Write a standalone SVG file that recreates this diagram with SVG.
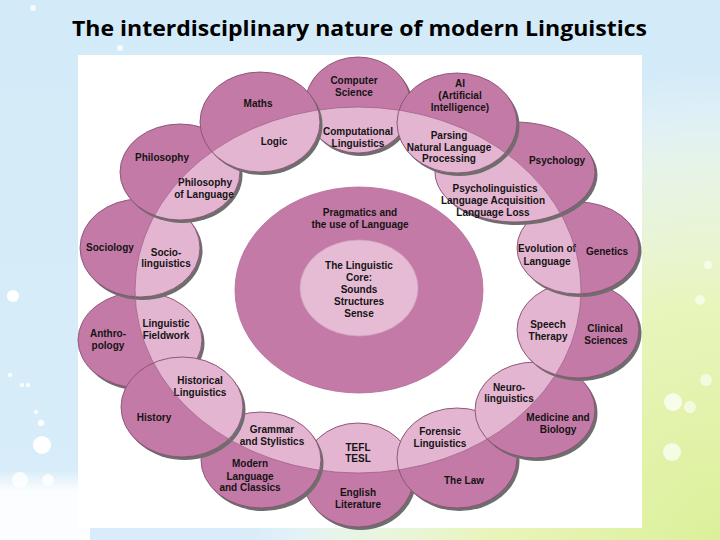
<svg xmlns="http://www.w3.org/2000/svg" xmlns:xlink="http://www.w3.org/1999/xlink" width="720" height="540" viewBox="0 0 720 540">
<style>
.sh{fill:#6e6e6e}
.dk{fill:#c47aa6}
.lt{fill:#e4b5d1}
.ol{fill:none;stroke:#86506f;stroke-width:0.9}
.t{font-family:"Liberation Sans",Arial,sans-serif;font-weight:bold;font-size:10px;fill:#141414;text-anchor:middle}
.ttl{font-family:"Open Sans","Liberation Sans",sans-serif;font-weight:bold;font-size:22px;fill:#000}
.dot{fill:#fff}
</style>
<defs>
<radialGradient id="grn" cx="720" cy="540" r="470" gradientUnits="userSpaceOnUse">
<stop offset="0" stop-color="#dcf09a"/>
<stop offset="0.5" stop-color="#e8f5bb"/>
<stop offset="0.8" stop-color="#f2f9dc" stop-opacity="0.6"/>
<stop offset="1" stop-color="#ffffff" stop-opacity="0"/>
</radialGradient>
<linearGradient id="bl" x1="0" y1="0" x2="0" y2="1">
<stop offset="0" stop-color="#d3eaf8"/>
<stop offset="1" stop-color="#d8edf9"/>
</linearGradient>
<linearGradient id="wb" x1="0" y1="0" x2="0" y2="1">
<stop offset="0" stop-color="#ffffff" stop-opacity="0"/>
<stop offset="0.3" stop-color="#ffffff" stop-opacity="0.9"/>
<stop offset="1" stop-color="#ffffff" stop-opacity="0.9"/>
</linearGradient>
<clipPath id="ring"><ellipse cx="358" cy="290" rx="223" ry="183"/></clipPath>
<ellipse id="e-cs" cx="358" cy="105" rx="53" ry="48"/>
<ellipse id="e-ai" cx="457" cy="123" rx="60" ry="50"/>
<ellipse id="e-psy" cx="515" cy="172" rx="80" ry="50"/>
<ellipse id="e-gen" cx="578" cy="248" rx="61" ry="46"/>
<ellipse id="e-cli" cx="578" cy="330" rx="61" ry="48"/>
<ellipse id="e-med" cx="535" cy="410" rx="60" ry="48"/>
<ellipse id="e-law" cx="457" cy="458" rx="60" ry="50"/>
<ellipse id="e-eng" cx="358" cy="475" rx="56" ry="52"/>
<ellipse id="e-mod" cx="261" cy="460" rx="60" ry="48"/>
<ellipse id="e-his" cx="182" cy="407" rx="61" ry="50"/>
<ellipse id="e-ant" cx="140" cy="340" rx="62" ry="48"/>
<ellipse id="e-soc" cx="140" cy="248" rx="60" ry="49"/>
<ellipse id="e-phi" cx="180" cy="172" rx="60" ry="48"/>
<ellipse id="e-mat" cx="260" cy="122" rx="60" ry="50"/>
<clipPath id="allc">
<use href="#e-cs"/><use href="#e-ai"/><use href="#e-psy"/><use href="#e-gen"/><use href="#e-cli"/><use href="#e-med"/><use href="#e-law"/><use href="#e-eng"/><use href="#e-mod"/><use href="#e-his"/><use href="#e-ant"/><use href="#e-soc"/><use href="#e-phi"/><use href="#e-mat"/>
</clipPath>
</defs>

<g id="background">
<rect x="0" y="0" width="720" height="540" fill="url(#bl)"/>
<rect x="0" y="0" width="720" height="540" fill="url(#grn)"/>
<rect x="0" y="470" width="90" height="70" fill="url(#wb)"/>
<circle class="dot" cx="13" cy="296" r="6"/>
<circle class="dot" cx="42" cy="445" r="9"/>
<circle class="dot" cx="41" cy="423" r="3"/>
<circle class="dot" cx="22" cy="385" r="2"/>
<circle class="dot" cx="28" cy="385" r="2"/>
<circle class="dot" cx="10" cy="375" r="2"/>
<circle class="dot" cx="36" cy="412" r="2"/>
<circle class="dot" cx="20" cy="480" r="8" opacity="0.8"/>
<circle class="dot" cx="48" cy="480" r="6" opacity="0.8"/>
<circle class="dot" cx="33" cy="8" r="3" opacity="0.8"/>
<circle class="dot" cx="120" cy="48" r="3" opacity="0.8"/>
<circle class="dot" cx="673" cy="402" r="9" opacity="0.75"/>
<circle class="dot" cx="690" cy="407" r="6" opacity="0.6"/>
<circle class="dot" cx="672" cy="452" r="9" opacity="0.7"/>
<circle class="dot" cx="706" cy="380" r="6" opacity="0.6"/>
<circle class="dot" cx="700" cy="300" r="5" opacity="0.6"/>
<circle class="dot" cx="708" cy="265" r="4" opacity="0.6"/>
</g>

<text class="ttl" x="72" y="36" textLength="575" lengthAdjust="spacingAndGlyphs">The interdisciplinary nature of modern Linguistics</text>

<rect id="panel" x="78" y="55" width="564" height="473" fill="#ffffff"/>

<g id="center">
<ellipse cx="359" cy="290" rx="124" ry="103" fill="#c47aa6" stroke="#b56d98" stroke-width="0.8"/>
<text class="t" x="360" y="215.5">Pragmatics and</text>
<text class="t" x="360" y="227.5">the use of Language</text>
</g>
<g id="core">
<ellipse cx="359" cy="288" rx="59" ry="48" fill="#e6bcd5" stroke="#d39fbf" stroke-width="0.8"/>
<text class="t" x="359" y="268.5">The Linguistic</text>
<text class="t" x="359" y="280.5">Core:</text>
<text class="t" x="359" y="292.5">Sounds</text>
<text class="t" x="359" y="304.5">Structures</text>
<text class="t" x="359" y="316.5">Sense</text>
</g>

<g id="n-eng">
<use href="#e-eng" class="sh" transform="translate(2.5,3)"/>
<use href="#e-eng" class="dk"/>
<use href="#e-eng" class="lt" clip-path="url(#ring)"/>
<use href="#e-eng" class="ol"/>
<text class="t" x="358" y="450.5">TEFL</text>
<text class="t" x="358" y="461.5">TESL</text>
<text class="t" x="358" y="495.5">English</text>
<text class="t" x="358" y="507.5">Literature</text>
</g>
<g id="n-mod">
<use href="#e-mod" class="sh" transform="translate(2.5,3)"/>
<use href="#e-mod" class="dk"/>
<use href="#e-mod" class="lt" clip-path="url(#ring)"/>
<use href="#e-mod" class="ol"/>
<text class="t" x="272" y="432.5">Grammar</text>
<text class="t" x="272" y="444.5">and Stylistics</text>
<text class="t" x="250" y="466.5">Modern</text>
<text class="t" x="250" y="479.5">Language</text>
<text class="t" x="250" y="490.5">and Classics</text>
</g>
<g id="n-law">
<use href="#e-law" class="sh" transform="translate(2.5,3)"/>
<use href="#e-law" class="dk"/>
<use href="#e-law" class="lt" clip-path="url(#ring)"/>
<use href="#e-law" class="ol"/>
<text class="t" x="440" y="434.5">Forensic</text>
<text class="t" x="440" y="446.5">Linguistics</text>
<text class="t" x="464" y="483.5">The Law</text>
</g>
<g id="n-med">
<use href="#e-med" class="sh" transform="translate(2.5,3)"/>
<use href="#e-med" class="dk"/>
<use href="#e-med" class="lt" clip-path="url(#ring)"/>
<use href="#e-med" class="ol"/>
<text class="t" x="509" y="390.5">Neuro-</text>
<text class="t" x="509" y="401.5">linguistics</text>
<text class="t" x="558" y="420.5">Medicine and</text>
<text class="t" x="558" y="432.5">Biology</text>
</g>
<g id="n-ant">
<use href="#e-ant" class="sh" transform="translate(2.5,3)"/>
<use href="#e-ant" class="dk"/>
<use href="#e-ant" class="lt" clip-path="url(#ring)"/>
<use href="#e-ant" class="ol"/>
<text class="t" x="108" y="336.5">Anthro-</text>
<text class="t" x="108" y="348.5">pology</text>
<text class="t" x="166" y="326.5">Linguistic</text>
<text class="t" x="166" y="338.5">Fieldwork</text>
</g>
<g id="n-his">
<use href="#e-his" class="sh" transform="translate(2.5,3)"/>
<use href="#e-his" class="dk"/>
<use href="#e-his" class="lt" clip-path="url(#ring)"/>
<use href="#e-his" class="ol"/>
<text class="t" x="200" y="383.5">Historical</text>
<text class="t" x="200" y="395.5">Linguistics</text>
<text class="t" x="154" y="420.5">History</text>
</g>
<g id="n-cli">
<use href="#e-cli" class="sh" transform="translate(2.5,3)"/>
<use href="#e-cli" class="dk"/>
<use href="#e-cli" class="lt" clip-path="url(#ring)"/>
<use href="#e-cli" class="ol"/>
<text class="t" x="605" y="331.5">Clinical</text>
<text class="t" x="606" y="343.5">Sciences</text>
<text class="t" x="548" y="327.5">Speech</text>
<text class="t" x="548" y="339.5">Therapy</text>
</g>
<g id="n-soc">
<use href="#e-soc" class="sh" transform="translate(2.5,3)"/>
<use href="#e-soc" class="dk"/>
<use href="#e-soc" class="lt" clip-path="url(#ring)"/>
<use href="#e-soc" class="ol"/>
<text class="t" x="110" y="250.5">Sociology</text>
<text class="t" x="166" y="255.5">Socio-</text>
<text class="t" x="166" y="266.5">linguistics</text>
</g>
<g id="n-gen">
<use href="#e-gen" class="sh" transform="translate(2.5,3)"/>
<use href="#e-gen" class="dk"/>
<use href="#e-gen" class="lt" clip-path="url(#ring)"/>
<use href="#e-gen" class="ol"/>
<text class="t" x="607" y="254.5">Genetics</text>
<text class="t" x="547" y="251.5">Evolution of</text>
<text class="t" x="547" y="264.5">Language</text>
</g>
<g id="n-phi">
<use href="#e-phi" class="sh" transform="translate(2.5,3)"/>
<use href="#e-phi" class="dk"/>
<use href="#e-phi" class="lt" clip-path="url(#ring)"/>
<use href="#e-phi" class="ol"/>
<text class="t" x="162" y="160.5">Philosophy</text>
<text class="t" x="205" y="185.5">Philosophy</text>
<text class="t" x="204" y="197.5">of Language</text>
</g>
<g id="n-psy">
<use href="#e-psy" class="sh" transform="translate(2.5,3)"/>
<use href="#e-psy" class="dk"/>
<use href="#e-psy" class="lt" clip-path="url(#ring)"/>
<use href="#e-psy" class="ol"/>
<text class="t" x="557" y="163.5">Psychology</text>
<text class="t" x="495" y="191.5">Psycholinguistics</text>
<text class="t" x="493" y="203.5">Language Acquisition</text>
<text class="t" x="493" y="215.5">Language Loss</text>
</g>
<g id="n-cs">
<use href="#e-cs" class="sh" transform="translate(2.5,3)"/>
<use href="#e-cs" class="dk"/>
<use href="#e-cs" class="lt" clip-path="url(#ring)"/>
<use href="#e-cs" class="ol"/>
<text class="t" x="354" y="83.5">Computer</text>
<text class="t" x="354" y="95.5">Science</text>
<text class="t" x="358" y="134.5">Computational</text>
<text class="t" x="358" y="146.5">Linguistics</text>
</g>
<g id="n-mat">
<use href="#e-mat" class="sh" transform="translate(2.5,3)"/>
<use href="#e-mat" class="dk"/>
<use href="#e-mat" class="lt" clip-path="url(#ring)"/>
<use href="#e-mat" class="ol"/>
<text class="t" x="258" y="106.5">Maths</text>
<text class="t" x="274" y="144.5">Logic</text>
</g>
<g id="n-ai">
<use href="#e-ai" class="sh" transform="translate(2.5,3)"/>
<use href="#e-ai" class="dk"/>
<use href="#e-ai" class="lt" clip-path="url(#ring)"/>
<use href="#e-ai" class="ol"/>
<text class="t" x="460" y="86.5">AI</text>
<text class="t" x="460" y="98.5">(Artificial</text>
<text class="t" x="460" y="110.5">Intelligence)</text>
<text class="t" x="449" y="138.5">Parsing</text>
<text class="t" x="449" y="150.5">Natural Language</text>
<text class="t" x="449" y="161.5">Processing</text>
</g>

<g id="connectors">
<ellipse cx="358" cy="290" rx="223" ry="183" fill="none" stroke="#a0628a" stroke-width="0.8" clip-path="url(#allc)"/>
</g>
</svg>
